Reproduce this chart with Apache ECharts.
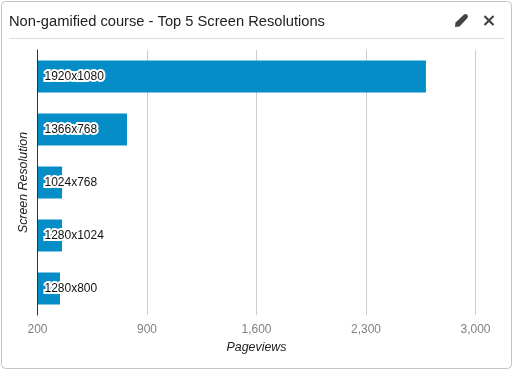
<!DOCTYPE html>
<html>
<head>
<meta charset="utf-8">
<title>Top 5 Screen Resolutions</title>
<style>
html,body{margin:0;padding:0;background:#fff;}
#chart{width:513px;height:371px;}
</style>
<script src="https://cdn.jsdelivr.net/npm/echarts@6/dist/echarts.min.js"></script>
</head>
<body>
<div id="chart"></div>
<script>
var chartTitle = 'Non-gamified course - Top 5 Screen Resolutions';
var resolutions = ['1920x1080', '1366x768', '1024x768', '1280x1024', '1280x800'];
var pageviews = [2683, 772, 357, 357, 344];
var xTicks = [200, 900, 1600, 2300, 3000];

var FONT = '"Liberation Sans", Arial, sans-serif';
var myChart = echarts.init(document.getElementById('chart'), null, {renderer: 'canvas'});

var option = {
    animation: false,
    textStyle: {fontFamily: FONT},
    title: {
        text: chartTitle,
        left: 4,
        top: 9,
        textStyle: {color: '#222', fontSize: 14.7, fontWeight: 'normal', fontFamily: FONT}
    },
    grid: {left: 37.5, right: 37.5, top: 50, bottom: 56, containLabel: false},
    xAxis: {
        type: 'value',
        min: 200,
        max: 3000,
        name: 'Pageviews',
        nameLocation: 'middle',
        nameGap: 27,
        nameTextStyle: {color: '#222', fontStyle: 'italic', fontSize: 12.4, fontFamily: FONT},
        axisLine: {show: false},
        axisTick: {show: false, customValues: xTicks},
        axisLabel: {color: '#808080', fontSize: 12, margin: 9, customValues: xTicks, hideOverlap: false,
            formatter: function (value) { return echarts.format.addCommas(value); }},
        splitLine: {show: true, lineStyle: {color: '#cccccc', width: 1}}
    },
    yAxis: {
        type: 'category',
        inverse: true,
        data: resolutions,
        z: 10,
        name: 'Screen Resolution',
        nameLocation: 'middle',
        nameGap: 7,
        nameTextStyle: {color: '#222', fontStyle: 'italic', fontSize: 12.4, fontFamily: FONT},
        axisLine: {show: true, lineStyle: {color: '#333', width: 1}},
        axisTick: {show: false},
        axisLabel: {
            inside: true,
            margin: 7,
            color: '#111',
            fontSize: 12,
            fontFamily: FONT,
            textBorderColor: '#fff',
            textBorderWidth: 4
        }
    },
    series: [{
        type: 'bar',
        data: pageviews,
        barWidth: 32,
        itemStyle: {color: '#058dc7'}
    }],
    graphic: [
        // card border
        {type: 'rect', silent: true, z: -1,
            shape: {x: 1.5, y: 1.5, width: 510, height: 367, r: 4},
            style: {fill: '#fff', stroke: '#c4c4c4', lineWidth: 1}},
        // line under the title
        {type: 'line', silent: true,
            shape: {x1: 9, y1: 38.5, x2: 504, y2: 38.5},
            style: {stroke: '#dddddd', lineWidth: 1}},
        // edit icon
        {type: 'polygon', silent: true,
            shape: {points: [[455, 27], [455.5, 22.5], [464, 14.5], [465.5, 14], [467, 14.5], [468, 16], [467.5, 18], [459.5, 26.5]]},
            style: {fill: '#444'}},
        // close icon
        {type: 'line', silent: true,
            shape: {x1: 484.5, y1: 16, x2: 493.5, y2: 25},
            style: {stroke: '#444', lineWidth: 2.2}},
        {type: 'line', silent: true,
            shape: {x1: 493.5, y1: 16, x2: 484.5, y2: 25},
            style: {stroke: '#444', lineWidth: 2.2}}
    ]
};
myChart.setOption(option);
</script>
</body>
</html>
